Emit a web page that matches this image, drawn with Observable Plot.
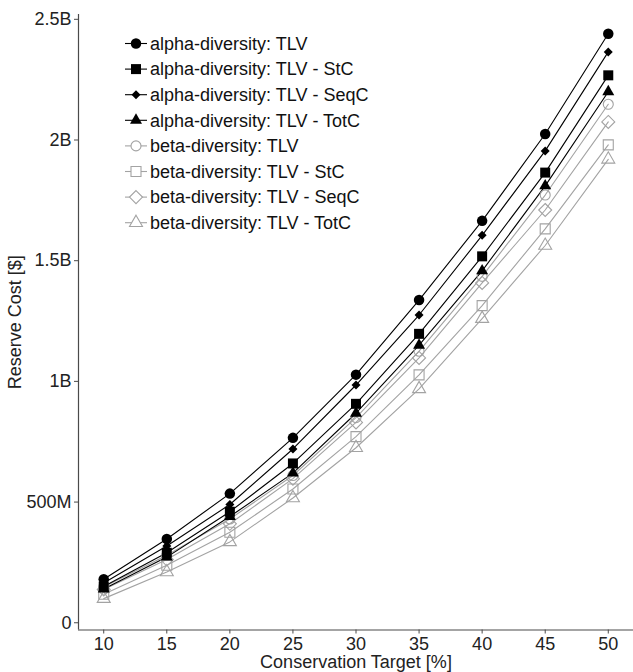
<!DOCTYPE html>
<html><head><meta charset="utf-8">
<script src="https://cdn.jsdelivr.net/npm/d3@7"></script>
<script src="https://cdn.jsdelivr.net/npm/@observablehq/plot@0.6"></script>
<style>body{margin:0;background:#fff;} #chart{width:633px;height:672px;position:relative;}</style>
</head><body><div id="chart"></div>
<script>
// ---- data (reserve cost in billions of $) ----
const targets = [10, 15, 20, 25, 30, 35, 40, 45, 50];
const alphaTLV     = [0.180, 0.347, 0.535, 0.766, 1.028, 1.337, 1.665, 2.025, 2.440];
const alphaStC     = [0.150, 0.290, 0.460, 0.660, 0.907, 1.197, 1.518, 1.865, 2.268];
const alphaSeqC    = [0.165, 0.318, 0.490, 0.720, 0.985, 1.275, 1.605, 1.955, 2.365];
const alphaTotC    = [0.140, 0.272, 0.440, 0.620, 0.868, 1.150, 1.458, 1.810, 2.200];
const betaTLV      = [0.148, 0.280, 0.430, 0.610, 0.850, 1.125, 1.435, 1.772, 2.148];
const betaStC      = [0.118, 0.238, 0.375, 0.554, 0.771, 1.027, 1.314, 1.632, 1.980];
const betaSeqC     = [0.138, 0.262, 0.410, 0.597, 0.830, 1.097, 1.408, 1.710, 2.075];
const betaTotC     = [0.100, 0.210, 0.335, 0.517, 0.725, 0.969, 1.260, 1.563, 1.920];
const seriesNames = [
  "alpha-diversity: TLV", "alpha-diversity: TLV - StC", "alpha-diversity: TLV - SeqC", "alpha-diversity: TLV - TotC",
  "beta-diversity: TLV", "beta-diversity: TLV - StC", "beta-diversity: TLV - SeqC", "beta-diversity: TLV - TotC"
];
const seriesValues = [alphaTLV, alphaStC, alphaSeqC, alphaTotC, betaTLV, betaStC, betaSeqC, betaTotC];
const xTicks = [10, 15, 20, 25, 30, 35, 40, 45, 50];
const yTicks = [0, 0.5, 1, 1.5, 2, 2.5];
const yTickLabels = ["0", "500M", "1B", "1.5B", "2B", "2.5B"];

// ---- styles ----
const BLACK = "#000", GRAY = "#a3a3a3";
const shapes = ["circle", "square", "diamond", "triangle", "circle", "square", "diamond", "triangle"];
const dims = [10.5, 10, 9, 12, 10, 10, 13, 13];
const filled = [true, true, true, true, false, false, false, false];

const symbolDefs = {
  circle: {draw(ctx, size) { const r = Math.sqrt(size / Math.PI); ctx.moveTo(r, 0); ctx.arc(0, 0, r, 0, 2 * Math.PI); }},
  square: {draw(ctx, size) { const s = Math.sqrt(size / Math.PI); ctx.rect(-s, -s, 2 * s, 2 * s); }},
  diamond: {draw(ctx, size) { const s = Math.sqrt(size / Math.PI); ctx.moveTo(0, -s); ctx.lineTo(s, 0); ctx.lineTo(0, s); ctx.lineTo(-s, 0); ctx.closePath(); }},
  triangle: {draw(ctx, size) { const a = 2 * Math.sqrt(size / Math.PI); const h = a * Math.sqrt(3) / 2;
    ctx.moveTo(0, -2 * h / 3); ctx.lineTo(a / 2, h / 3); ctx.lineTo(-a / 2, h / 3); ctx.closePath(); }}
};

const rows = [];
seriesNames.forEach((name, s) => targets.forEach((t, i) => rows.push({series: name, idx: s, target: t, cost: seriesValues[s][i]})));

const order = [7, 6, 5, 4, 3, 2, 1, 0];
const marks = [];
marks.push(Plot.ruleX([8], {stroke: "#4a4a4a", strokeWidth: 1.2}));
marks.push(Plot.ruleY([-0.03], {stroke: "#4a4a4a", strokeWidth: 1.2}));
for (const s of order) {
  const data = rows.filter(d => d.idx === s);
  const col = filled[s] ? BLACK : GRAY;
  marks.push(Plot.line(data, {x: "target", y: "cost", stroke: col, strokeWidth: 1.1}));
}
for (const s of order) {
  const data = rows.filter(d => d.idx === s);
  const col = filled[s] ? BLACK : GRAY;
  marks.push(Plot.dot(data, {x: "target", y: "cost", symbol: symbolDefs[shapes[s]], r: dims[s] / 2,
    fill: filled[s] ? col : "none", stroke: col, strokeWidth: filled[s] ? 0 : 1.1}));
}
marks.push(Plot.axisX({ticks: xTicks, tickSize: 4, tickPadding: 3, stroke: "#4a4a4a", fill: "#222",
  label: "Conservation Target [%]", labelAnchor: "center", labelArrow: "none", labelOffset: 38}));
marks.push(Plot.axisY({ticks: yTicks, tickSize: 4, tickPadding: 3, stroke: "#4a4a4a", fill: "#222",
  tickFormat: d => yTickLabels[yTicks.indexOf(d)],
  label: "Reserve Cost [$]", labelAnchor: "center", labelArrow: "none", labelOffset: 70}));

const chart = Plot.plot({
  width: 633, height: 672,
  marginLeft: 78, marginRight: 0, marginTop: 14, marginBottom: 42.5,
  x: {domain: [8, 52]},
  y: {domain: [-0.03, 2.52]},
  style: {fontFamily: "'Liberation Sans', Arial, sans-serif", fontSize: "18px", color: "#222", background: "#fff"},
  marks
});

// ---- legend (inside plot, top-left) ----
const svg = d3.select(chart);
const lg = svg.append("g").attr("font-family", "'Liberation Sans', Arial, sans-serif")
  .attr("font-size", 18).attr("text-anchor", "start");
seriesNames.forEach((name, s) => {
  const y = 43.5 + 25.6 * s;
  const col = filled[s] ? BLACK : GRAY;
  const g = lg.append("g").attr("transform", `translate(0,${y})`);
  g.append("line").attr("x1", 125).attr("x2", 147).attr("y1", 0).attr("y2", 0)
    .attr("stroke", col).attr("stroke-width", 1.1);
  const r = dims[s] / 2;
  g.append("path").attr("transform", "translate(136,0)")
    .attr("d", d3.symbol(symbolDefs[shapes[s]], Math.PI * r * r)())
    .attr("fill", filled[s] ? col : "#fff").attr("stroke", col).attr("stroke-width", filled[s] ? 0 : 1.1);
  g.append("text").attr("x", 150).attr("dy", "0.35em").attr("fill", "#111").text(name);
});

document.getElementById("chart").appendChild(chart);
</script>
</body></html>
